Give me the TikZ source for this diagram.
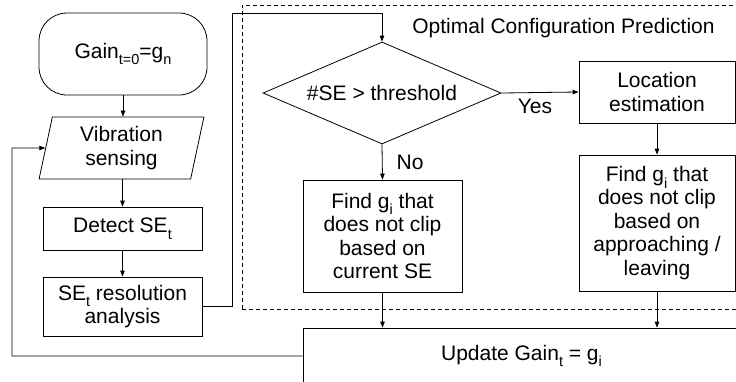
\documentclass[tikz,border=0pt]{standalone}
\usepackage{fontspec}
\setmainfont{Liberation Sans}
\usetikzlibrary{shapes.geometric,arrows.meta}
\newcommand\mysub[1]{\raisebox{-0.32em}{\fontsize{14.5}{15}\selectfont #1}}
\begin{document}
\begin{tikzpicture}[x=1pt,y=-1pt,
  every node/.style={font=\fontsize{21}{23.5}\selectfont, align=center, inner sep=2pt, text=black},
  box/.style={draw, rectangle, line width=0.8pt},
  term/.style={draw, rectangle, rounded corners=28pt, line width=0.8pt, minimum width=168pt, minimum height=82pt},
  para/.style={draw, trapezium, trapezium left angle=80, trapezium right angle=100, trapezium stretches=true, line width=0.8pt, minimum width=165pt, minimum height=62pt},
  decision/.style={draw, diamond, aspect=2.33, line width=0.8pt, inner sep=1pt, minimum width=238pt, minimum height=102pt},
  group/.style={draw, rectangle, line width=0.8pt, dash pattern=on 4pt off 3pt},
  arr/.style={-{Triangle[length=6pt,width=4.5pt]}, line width=0.8pt},
  line/.style={line width=0.8pt}]
\useasboundingbox (0,0) rectangle (736,381);
\clip (0,0) rectangle (736,381);

% group frame
\node[group, minimum width=510pt, minimum height=304pt] (grp) at (497,157) {};
\node[anchor=base] (title) at (563.5,33) {Optimal Configuration Prediction};

% left column
\node[term] (start) at (123,54) {Gain\mysub{t=0}=g\mysub{n}};
\node[para] (vib) at (121.5,148) {Vibration\\sensing};
\node[box, minimum width=159pt, minimum height=43pt] (det) at (122.5,228.5) {Detect SE\mysub{t}};
\node[box, minimum width=159pt, minimum height=59pt] (res) at (122.5,306.5) {SE\mysub{t} resolution\\analysis};

% prediction
\node[decision] (dia) at (382,93) {\#SE > threshold};
\node[box, minimum width=159pt, minimum height=112pt] (fl) at (382.5,236) {Find g\mysub{i} that\\does not clip\\based on\\current SE};
\node[box, minimum width=156pt, minimum height=62pt] (loc) at (657,92) {Location\\estimation};
\node[box, minimum width=156pt, minimum height=136pt] (fr) at (657,223) {Find g\mysub{i} that\\does not clip\\based on\\approaching /\\leaving};

% update
\node[box, minimum width=437pt, minimum height=56pt] (upd) at (521.5,356) {Update Gain\mysub{t} = g\mysub{i}};

% connectors
\coordinate (c1) at (232,13);
\coordinate (c2) at (12,148);
\draw[arr] (start.south) -- (start.south |- vib.north);
\draw[arr] (det.north |- vib.south) -- (det.north);
\draw[arr] (det.south) -- (res.north);
\draw[arr] (res.east) -| (c1) -| (dia.north);
\draw[arr] (dia.east) -- node[below=4pt, xshift=-5pt] {Yes} (loc.west);
\draw[arr] (dia.south) -- node[right=12pt] {No} (fl.north);
\draw[arr] (loc.south) -- (fr.north);
\draw[arr] (fl.south) -- (fl.south |- upd.north);
\draw[arr] (fr.south) -- (fr.south |- upd.north);
\draw[arr] (upd.west) -| (c2) -- (vib.west);
\end{tikzpicture}
\end{document}
